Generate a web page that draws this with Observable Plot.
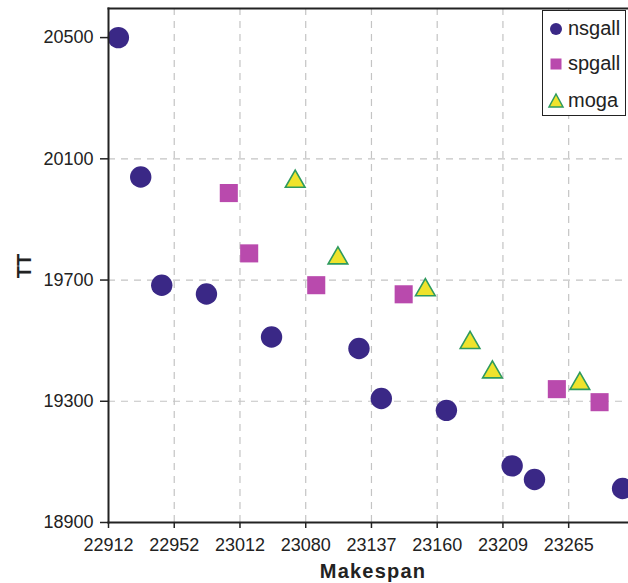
<!DOCTYPE html>
<html><head><meta charset="utf-8">
<script src="https://cdn.jsdelivr.net/npm/d3@7"></script>
<script src="https://cdn.jsdelivr.net/npm/@observablehq/plot@0.6"></script>
<style>
body{margin:0;background:#fff;}
#wrap{position:relative;width:628px;height:583px;font-family:"Liberation Sans",Arial,sans-serif;overflow:hidden;}
#legend{position:absolute;left:542px;top:10px;width:82px;height:104px;border:1.5px solid #222;background:#fff;box-sizing:content-box;}
.item{position:absolute;left:0;height:30px;width:82px;}
.item svg{position:absolute;left:4px;top:6px;}
.item span{position:absolute;left:25px;top:2px;font-size:20px;color:#222;line-height:24px;}
</style></head>
<body>
<div id="wrap"></div>
<script>
// Data
const xTickLabels = ["22912","22952","23012","23080","23137","23160","23209","23265"];
const xTickPos = [0,1,2,3,4,5,6,7];
const yTicks = [18900,19300,19700,20100,20500];
const yGrid = [19300,19700,20100];
const series = ["nsgall","spgall","moga"];
const nsgallX = [0.15,0.49,0.81,1.49,2.48,3.81,4.15,5.14,6.14,6.48,7.82];
const nsgallY = [20500,20040,19683,19654,19512,19474,19309,19270,19087,19042,19012];
const spgallX = [1.83,2.14,3.16,4.49,6.82,7.47];
const spgallY = [19987,19788,19683,19653,19340,19297];
const mogaX = [2.84,3.49,4.82,5.50,5.84,7.17];
const mogaY = [20025,19772,19667,19493,19396,19358];

const toRows = (xs, ys) => xs.map((x, i) => ({x, y: ys[i]}));
const ns = toRows(nsgallX, nsgallY);
const sp = toRows(spgallX, spgallY);
const mo = toRows(mogaX, mogaY);

const C = {ns:"#3a2886", sp:"#b94aad", moFill:"#efe32c", moStroke:"#2e9a5e"};

const chart = Plot.plot({
  width: 628, height: 583,
  marginLeft: 108, marginRight: 0, marginTop: 8, marginBottom: 61,
  style: {fontFamily: "'Liberation Sans', Arial, sans-serif", fontSize: "18px", background: "transparent", color: "#222"},
  x: {domain: [0, 7.91], label: null},
  y: {domain: [18900, 20596], label: null},
  marks: [
    Plot.gridX(xTickPos.slice(1), {stroke: "#c4c4c4", strokeOpacity: 1, strokeWidth: 1.2, strokeDasharray: "7,6"}),
    Plot.gridY(yGrid, {stroke: "#c4c4c4", strokeOpacity: 1, strokeWidth: 1.2, strokeDasharray: "7,6"}),
    Plot.dot(ns, {x: "x", y: "y", r: 10.7, symbol: "circle", fill: C.ns}),
    Plot.dot(sp, {x: "x", y: "y", r: 10.2, symbol: "square", fill: C.sp}),
    Plot.dot(mo, {x: "x", y: "y", r: 7.3, symbol: "triangle", fill: C.moFill, stroke: C.moStroke, strokeWidth: 1.6}),
    Plot.axisX(xTickPos, {tickFormat: d => xTickLabels[d], tickSize: 6, tickPadding: 10, label: null, stroke: "#222", strokeWidth: 1.5, fontSize: 18, fill: "#222"}),
    Plot.axisY(yTicks, {tickFormat: d => String(d), tickSize: 8, tickPadding: 7, label: null, stroke: "#222", strokeWidth: 1.5, fontSize: 18, fill: "#222"}),
    Plot.frame({anchor: "left", stroke: "#222", strokeWidth: 2}),
    Plot.frame({anchor: "bottom", stroke: "#222", strokeWidth: 2}),
    Plot.frame({anchor: "top", stroke: "#222", strokeWidth: 2})
  ]
});

const wrap = document.getElementById("wrap");
wrap.appendChild(chart);
const svg = d3.select(chart);
svg.selectAll("g[aria-label$='tick label']").attr("font-size", 18).attr("fill", "#222");
svg.append("text").attr("x", 373).attr("y", 578).attr("text-anchor", "middle")
  .attr("font-size", "20px").attr("font-weight", "bold").attr("letter-spacing", "1.2px")
  .attr("fill", "#222").text("Makespan");
svg.append("text").attr("transform", "translate(31,266) rotate(-90)").attr("text-anchor", "middle")
  .attr("font-size", "20px").attr("font-weight", "bold").attr("fill", "#222").text("TT");

// Legend
const legend = document.createElement("div");
legend.id = "legend";
const sym = [
  `<svg width="18" height="18"><circle cx="9" cy="9" r="6" fill="${C.ns}"/></svg>`,
  `<svg width="18" height="18"><rect x="3.5" y="3.5" width="11" height="11" fill="${C.sp}"/></svg>`,
  `<svg width="18" height="18"><path d="M9,2 L16,15 L2,15 Z" fill="${C.moFill}" stroke="${C.moStroke}" stroke-width="1.5"/></svg>`
];
const tops = [3, 38, 75];
series.forEach((s, i) => {
  const it = document.createElement("div");
  it.className = "item";
  it.style.top = tops[i] + "px";
  it.innerHTML = sym[i] + `<span>${s}</span>`;
  legend.appendChild(it);
});
wrap.appendChild(legend);
</script>
</body></html>
